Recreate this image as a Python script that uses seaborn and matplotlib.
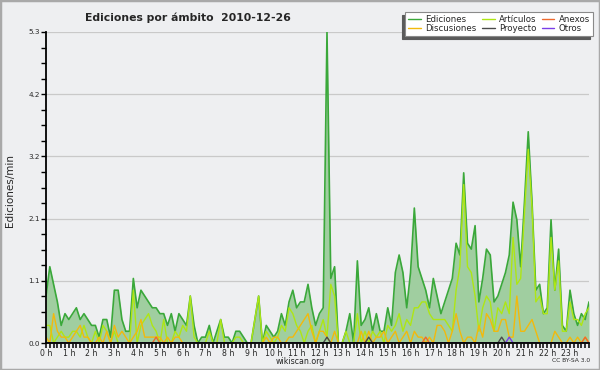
import numpy as np
import pandas as pd
import matplotlib
matplotlib.use("Agg")
import matplotlib.pyplot as plt
from matplotlib.ticker import MultipleLocator, FixedLocator, FuncFormatter
from matplotlib.patches import Rectangle
import seaborn as sns

# edits per minute, one value per 10-minute bin (0h .. 23h50)
ediciones = [
    0.8, 1.3, 1.0, 0.7, 0.3, 0.5, 0.4, 0.5, 0.6, 0.4,
    0.5, 0.4, 0.3, 0.3, 0.1, 0.4, 0.4, 0.1, 0.9, 0.9,
    0.4, 0.2, 0.2, 1.1, 0.6, 0.9, 0.8, 0.7, 0.6, 0.6,
    0.5, 0.5, 0.3, 0.5, 0.2, 0.5, 0.4, 0.3, 0.8, 0.3,
    0.0, 0.1, 0.1, 0.3, 0.0, 0.2, 0.4, 0.1, 0.1, 0.0,
    0.2, 0.2, 0.1, 0.0, 0.0, 0.4, 0.8, 0.0, 0.3, 0.2,
    0.1, 0.2, 0.5, 0.3, 0.7, 0.9, 0.6, 0.7, 0.7, 1.0,
    0.6, 0.3, 0.5, 0.6, 5.3, 1.1, 1.3, 0.0, 0.0, 0.2,
    0.5, 0.0, 1.4, 0.3, 0.4, 0.6, 0.2, 0.5, 0.2, 0.2,
    0.6, 0.3, 1.2, 1.5, 1.2, 0.6, 1.2, 2.3, 1.3, 1.1,
    0.9, 0.6, 1.1, 0.8, 0.5, 0.7, 0.9, 1.1, 1.7, 1.5,
    2.9, 1.7, 1.6, 2.0, 0.7, 1.1, 1.6, 1.5, 0.7, 0.8,
    1.0, 1.2, 1.5, 2.4, 2.1, 1.3, 2.4, 3.6, 2.4, 0.9,
    1.0, 0.5, 0.6, 2.1, 0.9, 1.6, 0.3, 0.2, 0.9, 0.5,
    0.3, 0.5, 0.4, 0.7]

articulos = [
    0.3, 0.3, 0.0, 0.1, 0.2, 0.1, 0.1, 0.2, 0.2, 0.1,
    0.3, 0.1, 0.0, 0.2, 0.0, 0.3, 0.2, 0.0, 0.2, 0.0,
    0.0, 0.0, 0.0, 0.9, 0.0, 0.3, 0.4, 0.5, 0.3, 0.2,
    0.0, 0.4, 0.0, 0.0, 0.2, 0.1, 0.3, 0.2, 0.8, 0.1,
    0.0, 0.0, 0.0, 0.2, 0.0, 0.0, 0.4, 0.0, 0.0, 0.0,
    0.1, 0.1, 0.0, 0.0, 0.0, 0.4, 0.8, 0.0, 0.2, 0.1,
    0.0, 0.1, 0.3, 0.2, 0.6, 0.5, 0.3, 0.2, 0.0, 0.2,
    0.3, 0.0, 0.2, 0.4, 0.1, 1.0, 0.8, 0.0, 0.0, 0.2,
    0.0, 0.0, 0.5, 0.0, 0.2, 0.0, 0.2, 0.1, 0.2, 0.0,
    0.3, 0.2, 0.3, 0.5, 0.2, 0.4, 0.3, 0.6, 0.6, 0.7,
    0.7, 0.5, 0.4, 0.4, 0.4, 0.4, 0.3, 0.2, 0.9, 1.3,
    2.7, 1.3, 1.2, 0.8, 0.2, 0.6, 0.8, 0.7, 0.2, 0.6,
    0.5, 0.7, 0.5, 1.8, 1.0, 1.1, 2.2, 3.3, 2.3, 0.7,
    0.8, 0.5, 0.5, 1.8, 0.9, 1.4, 0.2, 0.2, 0.7, 0.4,
    0.4, 0.3, 0.5, 0.6]

discusiones = [
    0.1, 0.0, 0.5, 0.2, 0.1, 0.1, 0.0, 0.1, 0.2, 0.3,
    0.1, 0.1, 0.0, 0.0, 0.1, 0.0, 0.2, 0.0, 0.3, 0.1,
    0.2, 0.1, 0.0, 0.1, 0.2, 0.4, 0.1, 0.1, 0.1, 0.1,
    0.1, 0.0, 0.1, 0.0, 0.1, 0.1, 0.0, 0.0, 0.0, 0.0,
    0.0, 0.0, 0.0, 0.0, 0.0, 0.0, 0.0, 0.0, 0.0, 0.0,
    0.0, 0.0, 0.0, 0.0, 0.0, 0.0, 0.0, 0.0, 0.1, 0.0,
    0.1, 0.1, 0.0, 0.0, 0.1, 0.1, 0.2, 0.3, 0.4, 0.5,
    0.2, 0.0, 0.2, 0.2, 0.1, 0.0, 0.2, 0.0, 0.0, 0.0,
    0.0, 0.0, 0.0, 0.2, 0.0, 0.2, 0.0, 0.1, 0.1, 0.2,
    0.0, 0.1, 0.2, 0.0, 0.1, 0.2, 0.0, 0.2, 0.1, 0.1,
    0.0, 0.1, 0.0, 0.3, 0.3, 0.2, 0.0, 0.2, 0.5, 0.2,
    0.0, 0.1, 0.1, 0.0, 0.3, 0.1, 0.5, 0.4, 0.2, 0.2,
    0.4, 0.4, 0.1, 0.1, 0.8, 0.2, 0.2, 0.3, 0.4, 0.2,
    0.0, 0.0, 0.0, 0.0, 0.2, 0.1, 0.0, 0.0, 0.1, 0.0,
    0.1, 0.0, 0.1, 0.0]

# sparse series: bin index -> value
anexos_idx, anexos_val = [29, 100, 142], [0.1, 0.1, 0.1]
proyecto_idx, proyecto_val = [74, 85, 120], [0.1, 0.1, 0.1]
otros_idx, otros_val = [122], [0.1]

hour_labels = [f"{h} h" for h in range(24)]

BG = "#eeeff1"
C_ED_LINE = "#3aa83a"
C_ED_FILL = "#a0cea0"
C_ART = "#aee614"
C_DIS = "#f2b90c"
C_ANE = "#ee6a2e"
C_PRO = "#4a4a4a"
C_OTR = "#7a3ee8"


def sparse(idx, val, n):
    s = np.zeros(n)
    s[idx] = val
    return s


def main():
    sns.set_theme(style="white")
    plt.rcParams["font.family"] = ["DejaVu Sans"]

    n = len(ediciones)
    hours = np.arange(n) / 6.0
    df = pd.DataFrame({
        "hora": hours,
        "Ediciones": ediciones,
        "Artículos": articulos,
        "Discusiones": discusiones,
        "Anexos": sparse(anexos_idx, anexos_val, n),
        "Proyecto": sparse(proyecto_idx, proyecto_val, n),
        "Otros": sparse(otros_idx, otros_val, n),
    })

    fig = plt.figure(figsize=(6, 3.7), dpi=100, facecolor=BG)
    ax = fig.add_axes([46 / 600, 27 / 370, 543 / 600, 311 / 370])
    ax.set_facecolor(BG)

    ax.fill_between(df["hora"], df["Ediciones"], color=C_ED_FILL, lw=0, zorder=1)
    styles = [("Ediciones", C_ED_LINE, 1.2), ("Artículos", C_ART, 1.0),
              ("Discusiones", C_DIS, 1.0), ("Anexos", C_ANE, 1.0),
              ("Proyecto", C_PRO, 1.0), ("Otros", C_OTR, 1.0)]
    handles = {}
    for name, col, lw in styles:
        sns.lineplot(data=df, x="hora", y=name, color=col, lw=lw, ax=ax,
                     estimator=None, label=name, zorder=2)
        handles[name] = ax.get_lines()[-1]

    ymax = max(ediciones)
    ax.set_xlim(0, hours[-1])
    ax.set_ylim(0, ymax)
    ax.yaxis.set_major_locator(FixedLocator(np.linspace(0, ymax, 6)))
    ax.yaxis.set_major_formatter(FuncFormatter(lambda v, p: f"{v:.1f}"))
    ax.yaxis.set_minor_locator(MultipleLocator(ymax / 20))
    ax.set_xticks(range(24))
    ax.set_xticklabels(hour_labels)
    ax.xaxis.set_minor_locator(MultipleLocator(1 / 6))
    ax.set_xlabel("")
    ax.set_ylabel("")

    ax.yaxis.grid(True, color="#c9c9c9", lw=0.9)
    ax.xaxis.grid(False)
    ax.set_axisbelow(True)
    for side in ["top", "right"]:
        ax.spines[side].set_visible(False)
    for side in ["left", "bottom"]:
        ax.spines[side].set_color("black")
        ax.spines[side].set_linewidth(1.3)
        ax.spines[side].set_zorder(5)

    ax.tick_params(axis="x", which="both", direction="out", length=3.5, width=1.1,
                   color="black", labelsize=5.6, pad=0.5, bottom=True)
    ax.tick_params(axis="y", which="both", direction="out", length=3.5, width=1.0,
                   color="black", labelsize=5.2, pad=1, left=True)

    order = ["Ediciones", "Discusiones", "Artículos", "Proyecto", "Anexos", "Otros"]
    leg = ax.legend([handles[k] for k in order], order, ncol=3, loc="upper right",
                    bbox_to_anchor=(593 / 600, 1 - 12 / 370), bbox_transform=fig.transFigure,
                    fontsize=6.2, frameon=True, fancybox=False,
                    shadow={"ox": -2.0, "oy": -2.0, "color": "#5a5a5a", "alpha": 1.0},
                    borderpad=0.35, handlelength=1.5, handletextpad=0.5,
                    columnspacing=0.6, labelspacing=0.05, borderaxespad=0)
    leg.get_frame().set_facecolor("white")
    leg.get_frame().set_edgecolor("#8a8a8a")
    leg.get_frame().set_linewidth(0.8)
    for line in leg.get_lines():
        line.set_linewidth(1.0)

    fig.text(0.313, 1 - 18 / 370, "Ediciones por ámbito  2010-12-26", ha="center",
             va="center", fontsize=7.8, fontweight="bold")
    fig.text(10 / 600, 1 - 191 / 370, "Ediciones/min", rotation=90, ha="center",
             va="center", fontsize=7.5)
    fig.text(0.5, 1 - 361 / 370, "wikiscan.org", ha="center", va="center", fontsize=5.7)
    fig.text(590 / 600, 1 - 361 / 370, "CC BY-SA 3.0", ha="right", va="center", fontsize=4.3)

    fig.add_artist(Rectangle((0, 0), 1, 1, transform=fig.transFigure, fill=False,
                             ec="#a9a9a9", lw=2.5))

    fig.savefig("out.png", dpi=100, facecolor=BG)


if "__main__" == __name__:
    main()
